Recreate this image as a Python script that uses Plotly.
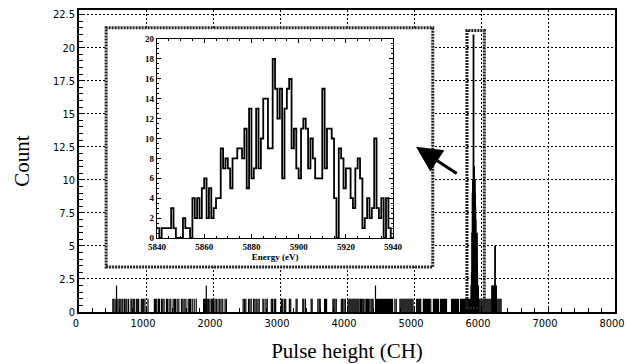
import plotly.graph_objects as go

# ---------------- main spectrum (channel, count) ----------------
bg_channels = [505, 520, 540, 560, 580, 600, 615, 640, 655, 680, 700, 715, 740,
               775, 790, 810, 825, 855, 870, 890, 930, 945, 965, 985, 1030,
               1125, 1140, 1160, 1185, 1200, 1230, 1250, 1270, 1305, 1320, 1345, 1370,
               1405, 1425, 1440, 1465, 1490, 1530, 1550, 1570, 1595, 1630, 1650, 1665,
               1690, 1720, 1750, 1860, 1875, 1890, 1900, 1915, 1935, 1955, 1980, 1995,
               2010, 2030, 2050, 2075, 2100, 2120, 2145, 2180, 2200, 2450, 2470, 2490,
               2530, 2550, 2570, 2605, 2625, 2645, 2670, 2690, 2745, 2760, 2790, 2810,
               2870, 2890, 2915, 2935, 3020, 3040, 3065, 3085, 3140, 3160, 3240, 3255,
               3340, 3355, 3380, 3465, 3480, 3565, 3585, 3600, 3665, 3680, 3695, 3790,
               3805, 3820, 3840, 3915, 3935, 3955, 3975, 4015, 4030, 4045, 4060, 4075,
               4090, 4105, 4120, 4135, 4150, 4165, 4180, 4200, 4215, 4235, 4250, 4270,
               4290, 4305, 4320, 4340, 4360, 4375, 4390, 4425, 4440, 4455, 4470, 4485,
               4500, 4515, 4530, 4545, 4560, 4575, 4590, 4605, 4620, 4635, 4650, 4665,
               4680, 4715, 4735, 4790, 4805, 4820, 4835, 4850, 4865, 4880, 4895, 4910,
               4925, 4940, 4955, 4970, 4985, 5040, 5055, 5070, 5085, 5100, 5140, 5155,
               5170, 5185, 5200, 5215, 5230, 5250, 5290, 5305, 5320, 5335, 5350, 5365,
               5395, 5410, 5425, 5440, 5455, 5470, 5485, 5560, 5575, 5590, 5605, 5620,
               5635, 5650, 5665, 5695, 5710, 5725, 5740, 5755, 5770, 5785, 5800, 5815,
               5830, 5845, 5970, 5985, 6000, 6015, 6030, 6045, 6060, 6075, 6090, 6105,
               6120, 6135, 6150, 6240, 6255, 6270, 6285, 6300]
bg_counts = [2 if c in (560, 1900, 4425) else 1 for c in bg_channels]

peak_channels = [5855, 5862, 5868, 5874, 5880, 5884, 5888, 5892, 5896, 5900, 5904,
                 5908, 5912, 5916, 5920, 5924, 5928, 5932, 5936, 5940, 5944, 5950,
                 5956, 5962,
                 6165, 6180, 6195, 6210, 6225]
peak_counts = [2, 3, 6, 9, 10, 10, 21, 10, 11, 10, 9,
               10, 9, 8, 7, 6, 5, 4, 4, 6, 3, 2,
               2, 1,
               2, 2, 2, 5, 2]

# ---------------- inset histogram (energy, count), 1 eV bins ----------------
energy_start = 5840
inset_counts = [1, 0, 1, 1, 1, 1, 3, 1, 0, 0,
                0, 2, 1, 1, 0, 4, 2, 4, 2, 5,
                6, 2, 5, 2, 3, 4, 4, 9, 7, 8,
                7, 5, 8, 8, 9, 9, 8, 11, 5, 13,
                6, 7, 13, 7, 10, 14, 14, 9, 9, 18,
                15, 12, 15, 6, 13, 15, 16, 9, 11, 7,
                6, 11, 12, 11, 7, 10, 8, 6, 6, 6,
                15, 7, 11, 11, 10, 4, 0, 9, 8, 5,
                7, 7, 4, 3, 7, 8, 6, 1, 2, 4,
                2, 3, 10, 3, 2, 4, 0, 4, 1, 0]

# axis settings
main_xticks = [0, 1000, 2000, 3000, 4000, 5000, 6000, 7000, 8000]
main_yticks = [0, 2.5, 5, 7.5, 10, 12.5, 15, 17.5, 20, 22.5]
inset_xticks = [5840, 5860, 5880, 5900, 5920, 5940]
inset_yticks = [0, 2, 4, 6, 8, 10, 12, 14, 16, 18, 20]

fig = go.Figure()

# vertical line segments for main spectrum
sx, sy = [], []
for c, n in zip(bg_channels, bg_counts):
    sx += [c, c, None]
    sy += [0, n, None]
fig.add_trace(go.Scatter(x=sx, y=sy, mode="lines",
                         line=dict(color="black", width=1.2),
                         hoverinfo="skip", showlegend=False))
px, py = [], []
for c, n in zip(peak_channels, peak_counts):
    px += [c, c, None]
    py += [0, n, None]
fig.add_trace(go.Scatter(x=px, y=py, mode="lines",
                         line=dict(color="black", width=1.8),
                         hoverinfo="skip", showlegend=False))

# inset step histogram
ex = [energy_start + i for i in range(len(inset_counts) + 1)]
ey = inset_counts + [inset_counts[-1]]
fig.add_trace(go.Scatter(x=ex, y=ey, mode="lines", line_shape="hv",
                         line=dict(color="black", width=1.8),
                         xaxis="x2", yaxis="y2", hoverinfo="skip", showlegend=False))

tickfont = dict(family="Liberation Sans Narrow, DejaVu Sans Condensed, sans-serif",
                size=11, color="black")
insetfont = dict(family="Liberation Serif, serif", size=9, color="black", weight="bold")

fig.update_layout(
    width=626, height=364,
    margin=dict(l=79, r=11, t=10, b=52),
    paper_bgcolor="white", plot_bgcolor="white",
    showlegend=False,
    xaxis=dict(range=[0, 8000], tickvals=main_xticks, ticks="inside", ticklen=6,
               tickcolor="black", showline=True, linecolor="black", linewidth=1.5,
               mirror=True, showgrid=True, gridcolor="black", griddash="2px,2px",
               gridwidth=1, zeroline=False, tickfont=tickfont, automargin=False,
               ticklabeloverflow="allow", ticklabelshift=-3,
               minor=dict(dtick=200, ticks="inside", ticklen=4, tickcolor="black",
                          showgrid=False),
               title=dict(text="Pulse height (CH)", standoff=14,
                          font=dict(family="Liberation Serif, serif", size=21,
                                    color="black"))),
    yaxis=dict(range=[0, 22.85], tickvals=main_yticks, ticks="inside", ticklen=6,
               tickcolor="black", showline=True, linecolor="black", linewidth=1.5,
               mirror=True, showgrid=True, gridcolor="black", griddash="2px,2px",
               gridwidth=1, zeroline=False, tickfont=tickfont, automargin=False,
               ticklabeloverflow="allow",
               minor=dict(dtick=0.5, ticks="inside", ticklen=4, tickcolor="black",
                          showgrid=False),
               title=dict(text="Count", standoff=18,
                          font=dict(family="Liberation Serif, serif", size=21,
                                    color="black"))),
    xaxis2=dict(domain=[0.1455, 0.586], anchor="y2", range=[5840, 5940],
                tickvals=inset_xticks, ticks="inside", ticklen=4, tickcolor="black",
                showline=True, linecolor="black", linewidth=1.2, mirror="allticks",
                showgrid=False, zeroline=False, tickfont=insetfont, automargin=False,
                minor=dict(dtick=5, ticks="inside", ticklen=2, tickcolor="black"),
                title=dict(text="Energy (eV)", standoff=2, font=insetfont)),
    yaxis2=dict(domain=[0.245, 0.904], anchor="x2", range=[0, 20],
                tickvals=inset_yticks, ticks="inside", ticklen=4, tickcolor="black",
                showline=True, linecolor="black", linewidth=1.2, mirror="allticks",
                showgrid=False, zeroline=False, tickfont=insetfont, automargin=False,
                minor=dict(dtick=0.5, ticks="inside", ticklen=2, tickcolor="black")),
    shapes=[
        # white inset background box
        dict(type="rect", xref="x", yref="y", x0=405, x1=5280, y0=3.4, y1=21.5,
             fillcolor="white", line=dict(width=0), layer="between"),
        # hatched frame of inset box
        dict(type="rect", xref="x", yref="y", x0=405, x1=5280, y0=3.4, y1=21.5,
             line=dict(color="#222", width=3, dash="2px,1px"), layer="above"),
        # hatched frame around the peak
        dict(type="rect", xref="x", yref="y", x0=5790, x1=6050, y0=0.3, y1=21.3,
             line=dict(color="#222", width=3, dash="2px,1px"), layer="above"),
    ],
    annotations=[
        dict(x=5030, y=12.5, xref="x", yref="y", ax=5660, ay=10.4,
             axref="x", ayref="y", text="", showarrow=True, arrowhead=2,
             arrowsize=1.7, arrowwidth=3, arrowcolor="black"),
    ],
)

fig.write_html("out.html")
